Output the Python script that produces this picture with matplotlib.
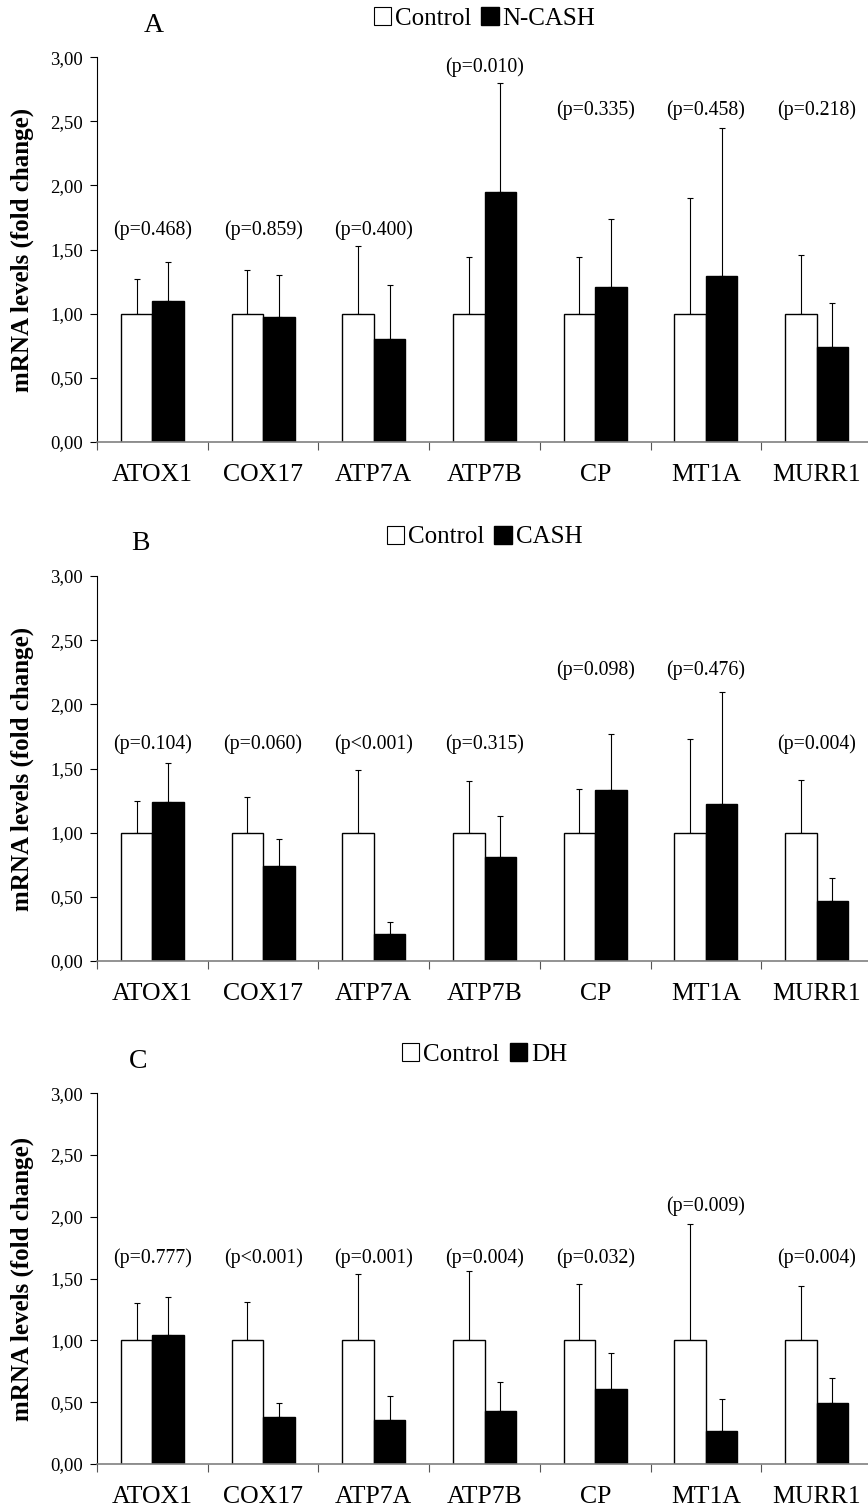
import numpy as np
import matplotlib
matplotlib.use("Agg")
import matplotlib.pyplot as plt
from matplotlib.patches import Patch
from matplotlib.ticker import FixedLocator

plt.rcParams['font.family'] = ['Liberation Serif', 'DejaVu Serif']

# 数据
genes = ['ATOX1', 'COX17', 'ATP7A', 'ATP7B', 'CP', 'MT1A', 'MURR1']
yticks = [0.0, 0.5, 1.0, 1.5, 2.0, 2.5, 3.0]
ytick_labels = ['0,00', '0,50', '1,00', '1,50', '2,00', '2,50', '3,00']

# A: Control vs N-CASH
ctrl_a = [1.00, 1.00, 1.00, 1.00, 1.00, 1.00, 1.00]
ctrl_sd_a = [0.27, 0.34, 0.53, 0.44, 0.44, 0.90, 0.46]
ncash = [1.10, 0.97, 0.80, 1.95, 1.21, 1.29, 0.74]
ncash_sd = [0.30, 0.33, 0.42, 0.85, 0.53, 1.16, 0.34]
p_a = ['(p=0.468)', '(p=0.859)', '(p=0.400)', '(p=0.010)', '(p=0.335)', '(p=0.458)', '(p=0.218)']

# B: Control vs CASH
ctrl_b = [1.00, 1.00, 1.00, 1.00, 1.00, 1.00, 1.00]
ctrl_sd_b = [0.245, 0.28, 0.49, 0.40, 0.34, 0.73, 0.41]
cash = [1.24, 0.74, 0.21, 0.81, 1.33, 1.22, 0.47]
cash_sd = [0.30, 0.21, 0.095, 0.32, 0.44, 0.88, 0.18]
p_b = ['(p=0.104)', '(p=0.060)', '(p<0.001)', '(p=0.315)', '(p=0.098)', '(p=0.476)', '(p=0.004)']

# C: Control vs DH
ctrl_c = [1.00, 1.00, 1.00, 1.00, 1.00, 1.00, 1.00]
ctrl_sd_c = [0.30, 0.31, 0.54, 0.56, 0.46, 0.94, 0.44]
dh = [1.04, 0.38, 0.36, 0.425, 0.61, 0.27, 0.49]
dh_sd = [0.31, 0.11, 0.19, 0.235, 0.29, 0.255, 0.21]
p_c = ['(p=0.777)', '(p<0.001)', '(p=0.001)', '(p=0.004)', '(p=0.032)', '(p=0.009)', '(p=0.004)']

# p 值标注的高度
p_y_a = [1.65, 1.65, 1.65, 2.92, 2.59, 2.59, 2.59]
p_y_b = [1.69, 1.69, 1.69, 1.69, 2.27, 2.27, 1.69]
p_y_c = [1.67, 1.67, 1.67, 1.67, 1.67, 2.09, 1.67]

W, H = 868, 1511
fig = plt.figure(figsize=(W / 100, H / 100), dpi=100)


def draw_panel(rect, letter, letter_xy, group, ctrl, ctrl_sd, trt, trt_sd, pvals, p_y):
    ax = fig.add_axes(rect)
    x = np.arange(len(genes))
    w = 0.285
    ax.bar(x - w / 2, ctrl, w, color='white', edgecolor='black', linewidth=1.0, zorder=2)
    ax.bar(x + w / 2, trt, w, color='black', edgecolor='black', linewidth=1.0, zorder=2)
    ax.errorbar(x - w / 2, ctrl, yerr=[np.zeros(len(x)), ctrl_sd], fmt='none',
                ecolor='black', elinewidth=0.8, capsize=2, capthick=0.8, zorder=1)
    ax.errorbar(x + w / 2, trt, yerr=[np.zeros(len(x)), trt_sd], fmt='none',
                ecolor='black', elinewidth=0.8, capsize=2, capthick=0.8, zorder=1)
    for i, (txt, yy) in enumerate(zip(pvals, p_y)):
        ax.text(x[i], yy, txt, ha='center', va='center', fontsize=14.3)

    ax.set_xlim(-0.5, len(genes) - 0.5)
    ax.set_ylim(0, 3.0)
    ax.set_yticks(yticks)
    ax.set_yticklabels(ytick_labels, fontsize=13.5)
    ax.set_xticks(x)
    ax.set_xticklabels(genes, fontsize=18.5)
    ax.xaxis.set_minor_locator(FixedLocator(np.arange(len(genes)) - 0.5))
    ax.tick_params(axis='x', which='major', length=0, pad=16)
    ax.tick_params(axis='x', which='minor', length=6, width=0.8, direction='out', color='#555555')
    ax.tick_params(axis='y', length=5, width=0.8, direction='out', pad=5)
    ax.spines['top'].set_visible(False)
    ax.spines['right'].set_visible(False)
    ax.spines['left'].set_linewidth(0.8)
    ax.spines['bottom'].set_color('#808080')
    ax.spines['bottom'].set_linewidth(1.2)
    ax.set_ylabel('mRNA levels (fold change)', fontsize=18, fontweight='bold')
    ax.yaxis.set_label_coords((34 - 97) / (rect[2] * W), 0.5)

    handles = [Patch(facecolor='white', edgecolor='black', linewidth=0.8, label='Control'),
               Patch(facecolor='black', edgecolor='black', label=group)]
    ax.legend(handles=handles, loc='center', bbox_to_anchor=(0.5, 1.0 + 39 / (rect[3] * H)),
              ncol=2, frameon=False, fontsize=18, handlelength=0.7, handleheight=0.75,
              handletextpad=0.15, columnspacing=0.4, borderaxespad=0)
    fig.text(letter_xy[0] / W, 1 - letter_xy[1] / H, letter, fontsize=20,
             ha='center', va='center')
    return ax


def rect_px(top, bottom):
    left, right = 97, 872
    return [left / W, 1 - bottom / H, (right - left) / W, (bottom - top) / H]


draw_panel(rect_px(57.3, 441.7), 'A', (154, 26), 'N-CASH', ctrl_a, ctrl_sd_a, ncash, ncash_sd, p_a, p_y_a)
draw_panel(rect_px(576, 961), 'B', (140, 543), 'CASH', ctrl_b, ctrl_sd_b, cash, cash_sd, p_b, p_y_b)
draw_panel(rect_px(1093.3, 1464), 'C', (138, 1062), 'DH', ctrl_c, ctrl_sd_c, dh, dh_sd, p_c, p_y_c)

fig.savefig('out.png', dpi=100)
